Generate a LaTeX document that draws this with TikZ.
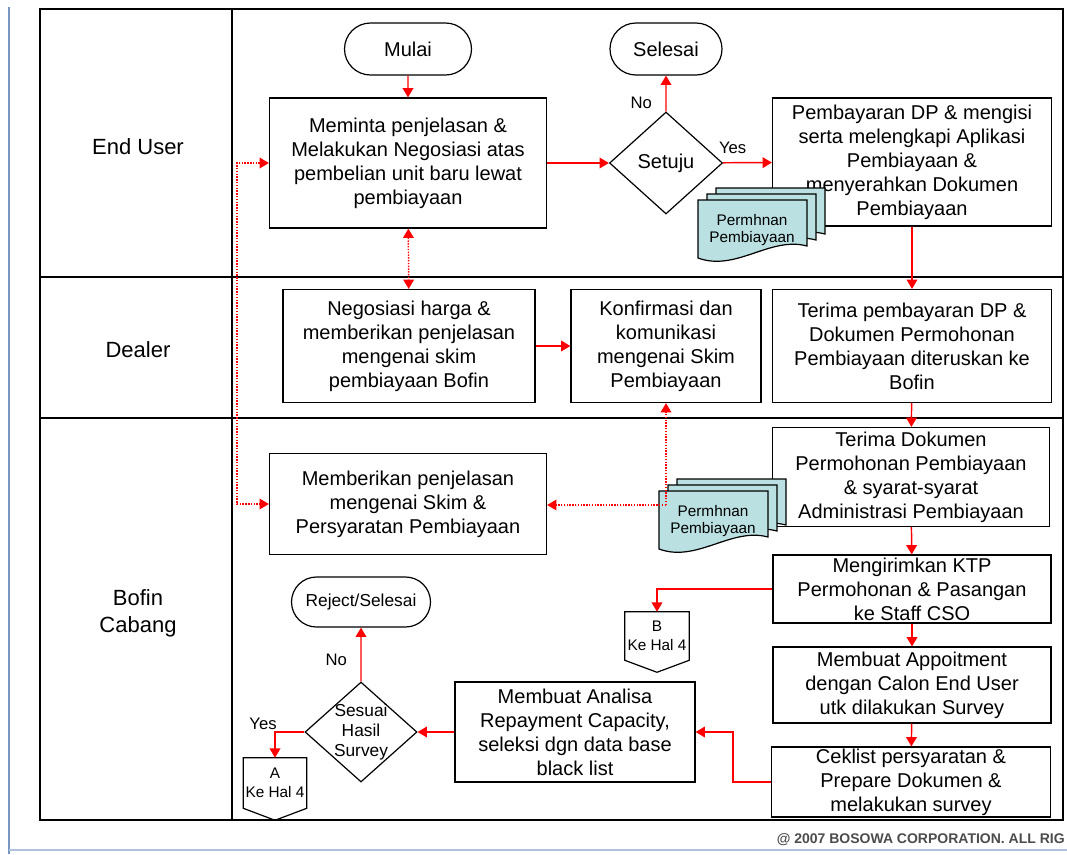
\documentclass[tikz,border=0pt]{standalone}
\usepackage{fontspec}
\setmainfont{Liberation Sans}
\usetikzlibrary{shapes.geometric,shapes.misc,arrows.meta,calc}

\definecolor{flowred}{RGB}{255,0,0}
\definecolor{docfill}{RGB}{186,224,226}
\definecolor{pageblue}{RGB}{120,150,195}

\begin{document}
\begin{tikzpicture}
  [
    x=0.75pt, y=-0.75pt,
    every node/.style =
      {inner sep=0pt, font=\fontsize{15}{18}\selectfont},
    proc/.style 2 args =
      {draw, line width=0.9pt, fill=white, align=center,
       minimum width=#1*0.75pt, minimum height=#2*0.75pt},
    term/.style 2 args =
      {draw, line width=0.9pt, rounded rectangle, fill=white,
       minimum width=#1*0.75pt, minimum height=#2*0.75pt},
    decision/.style 2 args =
      {draw, line width=0.9pt, diamond, fill=white, aspect=1.1,
       minimum width=#1*0.75pt, minimum height=#2*0.75pt},
    offpage/.style =
      {align=center, minimum width=64*0.75pt, minimum height=48*0.75pt,
       font=\fontsize{11.5}{14}\selectfont},
    lane/.style =
      {align=center, font=\fontsize{16.5}{20}\selectfont},
    lbl/.style =
      {font=\fontsize{12.5}{15}\selectfont},
    flow/.style =
      {draw=flowred, line width=1.1pt, -{Triangle[width=8pt,length=7pt]}},
    dflow/.style =
      {flow, densely dotted},
    pics/docstack/.style =
      {code = {
        \foreach \k in {2,1,0}
          \draw [fill=docfill, line width=0.9pt, shift={(9*\k,-6*\k)}]
            (0,0) -- (109,0) -- (109,46) .. controls (72,36) and (38,72) .. (0,58) -- cycle;
        \node [align=center, font=\fontsize{11.5}{13}\selectfont] (-txt) at (54,30) {#1};
      }}
  ]

\useasboundingbox (0,0) rectangle (1067,854);

% page edges
\draw [pageblue, line width=1.5pt] (9,7) -- (9,854);
\draw [pageblue!60, line width=1pt] (9,850) -- (1067,850);
\node [anchor=east, text=black!70, font=\bfseries\fontsize{10.5}{12}\selectfont]
  (copy) at (1065,840) {@ 2007 BOSOWA CORPORATION. ALL RIG};

% swimlanes
\draw [line width=0.9pt] (40,9) rectangle (1063,820);
\draw [line width=0.9pt] (232,9) -- (232,820);
\draw [line width=0.9pt] (40,277) -- (1063,277);
\draw [line width=0.9pt] (40,418) -- (1063,418);

\node [lane] (euser)  at (138,147) {End User};
\node [lane] (dealer) at (138,350) {Dealer};
\node [lane] (bofin)  at (138,613) {Bofin\\Cabang};

% end user
\node [term={127}{52}] (mulai) at (408,49) {Mulai};
\node [term={112}{52}] (selesai) at (666,49) {Selesai};
\node [proc={277}{130}] (minta) at (408,163)
  {Meminta penjelasan \&\\Melakukan Negosiasi atas\\pembelian unit baru lewat\\pembiayaan};
\node [decision={113}{102}] (setuju) at (666,163) {Setuju};
\node [proc={279}{128}] (bayar) at (912,162)
  {Pembayaran DP \& mengisi\\serta melengkapi Aplikasi\\Pembiayaan \&\\menyerahkan Dokumen\\Pembiayaan};
\pic (doc1) at (698,200) {docstack={Permhnan\\Pembiayaan}};

% dealer
\node [proc={252}{113}] (nego) at (409,346)
  {Negosiasi harga \&\\memberikan penjelasan\\mengenai skim\\pembiayaan Bofin};
\node [proc={190}{113}] (konf) at (666,346)
  {Konfirmasi dan\\komunikasi\\mengenai Skim\\Pembiayaan};
\node [proc={279}{113}] (terimadp) at (912,346)
  {Terima pembayaran DP \&\\Dokumen Permohonan\\Pembiayaan diteruskan ke\\Bofin};

% bofin cabang
\node [proc={277}{99}] (terimadok) at (911,477)
  {Terima Dokumen\\Permohonan Pembiayaan\\\& syarat-syarat\\Administrasi Pembiayaan};
\node [proc={277}{101}] (beri) at (408,504)
  {Memberikan penjelasan\\mengenai Skim \&\\Persyaratan Pembiayaan};
\pic (doc2) at (659,491) {docstack={Permhnan\\Pembiayaan}};
\coordinate (dcorner) at (666,505);
\node [proc={278}{68}] (kirim) at (912,589)
  {Mengirimkan KTP\\Permohonan \& Pasangan\\ke Staff CSO};
\node [proc={278}{76}] (janji) at (912,685)
  {Membuat Appoitment\\dengan Calon End User\\utk dilakukan Survey};
\node [proc={279}{70}] (ceklist) at (911,782)
  {Ceklist persyaratan \&\\Prepare Dokumen \&\\melakukan survey};
\node [proc={240}{100}] (analisa) at (575,732)
  {Membuat Analisa\\Repayment Capacity,\\seleksi dgn data base\\black list};
\node [decision={112}{100},
       label={[align=center, font=\fontsize{13}{15}\selectfont]center:Sesuai\\Hasil\\Survey}]
  (sesuai) at (361,732) {};
\node [term={139}{50}, font=\fontsize{13}{15}\selectfont] (reject) at (361,602) {Reject/Selesai};
\node [offpage] (conB) at (657,636) {B\\Ke Hal 4};
\node [offpage, minimum width=63*0.75pt, minimum height=50*0.75pt] (conA) at (275,783) {A\\Ke Hal 4};

\foreach \c in {conA,conB}
  \draw [line width=0.9pt] (\c.north west) -- (\c.north east) -- (\c.south east)
    -- ($(\c.south)+(0,12)$) -- (\c.south west) -- cycle;

% connectors
\draw [flow] (mulai) -- (minta);
\draw [flow] (minta) -- (setuju);
\draw [flow] (setuju) -- (selesai) node [lbl, pos=0.25, left=10pt] {No};
\draw [flow] (setuju) -- (bayar) node [lbl, pos=0.2, above=6pt] {Yes};
\draw [flow] (bayar) -- (terimadp);
\draw [dflow, {Triangle[width=8pt,length=7pt]}-{Triangle[width=8pt,length=7pt]}] (minta) -- (nego);
\draw [flow] (nego) -- (konf);
\draw [flow] (terimadp) -- (terimadok);
\draw [dflow, {Triangle[width=8pt,length=7pt]}-{Triangle[width=8pt,length=7pt]}]
  (minta.west) -- ++(-32,0) |- (beri.west);
\draw [dflow] (dcorner) -- (dcorner -| beri.east);
\draw [dflow] (dcorner) -- (konf.south);
\draw [flow] (terimadok) -- (kirim);
\draw [flow] (kirim.west) -| (conB.north);
\draw [flow] (kirim) -- (janji);
\draw [flow] (janji) -- (ceklist);
\draw [flow] (ceklist.west) -- ++(-38,0) |- (analisa.east);
\draw [flow] (analisa) -- (sesuai);
\draw [flow] (sesuai) -- (reject) node [lbl, pos=0.4, left=10pt] {No};
\draw [flow] (sesuai.west) -| (conA.north) node [lbl, pos=0.5, anchor=south, xshift=-9pt, yshift=1pt] {Yes};

\end{tikzpicture}
\end{document}
